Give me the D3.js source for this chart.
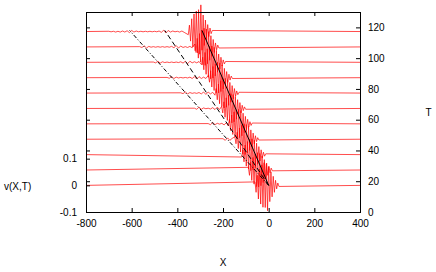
<!DOCTYPE html>
<html>
<head>
<meta charset="utf-8">
<script src="https://cdn.jsdelivr.net/npm/d3@7"></script>
<style>
  body { margin: 0; background: #fff; }
  text { font-family: "Liberation Sans", Arial, sans-serif; font-size: 10px; fill: #000; }
</style>
</head>
<body>
<div id="chart"></div>
<script>
// times of the plotted snapshots (each trace is drawn on its own baseline)
const traceT = [17.3, 27.3, 37.3, 47.3, 57.3, 67.3, 77.3, 87.3, 97.3, 107.3, 117.3];

// main wave packet: first X sample of each trace and the sampled v values
const mainStep = 5;
const mainX0 = [-60, -89, -118, -148, -177, -206, -235, -264, -294, -323, -352];
const mainV = [
  [0.013, -0.026, 0.038, -0.051, 0.061, -0.070, 0.077, -0.082, 0.085, -0.083, 0.081, -0.095, 0.070, -0.061, 0.051, -0.043, 0.034, -0.026, 0.019, -0.013, 0.009, -0.004],
  [0.010, -0.020, 0.029, -0.039, 0.047, -0.053, 0.059, -0.062, 0.065, -0.064, 0.062, -0.059, 0.053, -0.047, 0.039, -0.033, 0.026, -0.020, 0.014, -0.010, 0.007, -0.003],
  [-0.009, 0.018, -0.027, 0.036, -0.043, 0.049, -0.054, 0.058, -0.060, 0.059, -0.057, 0.054, -0.049, 0.043, -0.036, 0.030, -0.024, 0.018, -0.013, 0.009, -0.006, 0.003],
  [0.009, -0.017, 0.026, -0.035, 0.042, -0.048, 0.052, -0.056, 0.058, -0.057, 0.055, -0.052, 0.048, -0.042, 0.035, -0.029, 0.023, -0.017, 0.013, -0.009, 0.006, -0.003],
  [-0.008, 0.017, -0.025, 0.033, -0.040, 0.045, -0.050, 0.053, -0.055, 0.054, -0.052, 0.050, -0.045, 0.040, -0.033, 0.028, -0.022, 0.017, -0.012, 0.008, -0.006, 0.003],
  [0.008, -0.017, 0.025, -0.033, 0.040, -0.045, 0.050, -0.053, 0.055, -0.054, 0.052, -0.050, 0.045, -0.040, 0.033, -0.028, 0.022, -0.017, 0.012, -0.008, 0.006, -0.003],
  [-0.008, 0.017, -0.025, 0.034, -0.040, 0.046, -0.050, 0.054, -0.056, 0.055, -0.053, 0.050, -0.046, 0.040, -0.034, 0.028, -0.022, 0.017, -0.012, 0.008, -0.006, 0.003],
  [0.009, -0.017, 0.026, -0.035, 0.042, -0.048, 0.052, -0.056, 0.058, -0.057, 0.055, -0.052, 0.048, -0.042, 0.035, -0.029, 0.023, -0.017, 0.013, -0.009, 0.006, -0.003],
  [-0.009, 0.019, -0.028, 0.037, -0.045, 0.051, -0.056, 0.060, -0.062, 0.061, -0.059, 0.056, -0.051, 0.045, -0.037, 0.031, -0.025, 0.019, -0.014, 0.009, -0.006, 0.003],
  [0.011, -0.021, 0.032, -0.042, 0.050, -0.057, 0.063, -0.067, 0.070, -0.069, 0.067, -0.063, 0.057, -0.050, 0.042, -0.035, 0.028, -0.021, 0.015, -0.011, 0.007, -0.004],
  [-0.012, 0.024, -0.036, 0.048, -0.058, 0.066, -0.072, 0.077, -0.080, 0.082, -0.085, 0.100, -0.070, 0.062, -0.052, 0.043, -0.034, 0.026, -0.019, 0.013, -0.008, 0.004]
];

// weak ripples trailing behind the main packet
const trailStep = 10;
const trailX0 = [null, null, null, -200, -265, -325, -385, -445, -505, -565, -700];
const trailV = [
  [], [], [],
  [0.002, -0.004, 0.005, -0.004, 0.003],
  [0.001, -0.003, 0.005, -0.003, 0.002, -0.001, 0.002, -0.004, 0.005],
  [0.001, -0.003, 0.005, -0.003, 0.002, -0.001, 0.001, -0.002, 0.003, -0.004, 0.005, -0.004],
  [0.001, -0.002, 0.004, -0.003, 0.002, -0.001, 0.001, -0.001, 0.002, -0.003, 0.004, -0.005, 0.004, -0.003, 0.003],
  [0.001, -0.002, 0.004, -0.003, 0.002, -0.001, 0.001, -0.001, 0.001, -0.001, 0.002, -0.003, 0.004, -0.005, 0.004, -0.003, 0.002, -0.003],
  [0.001, -0.002, 0.004, -0.003, 0.002, -0.001, 0.001, -0.001, 0.001, -0.001, 0.001, -0.001, 0.002, -0.003, 0.004, -0.005, 0.004, -0.002, 0.002, -0.002, 0.003],
  [0.001, -0.002, 0.004, -0.004, 0.002, -0.001, 0.001, -0.001, 0.001, -0.001, 0.001, -0.001, 0.001, -0.001, 0.002, -0.003, 0.005, -0.004, 0.003, -0.002, 0.001, -0.002, 0.002, -0.003],
  [0.001, -0.001, 0.001, -0.002, 0.001, -0.002, 0.002, -0.002, 0.003, -0.004, 0.004, -0.002, 0.002, -0.001, 0.001, -0.001, 0.001, -0.001, 0.001, -0.001, 0.001, -0.001, 0.002, -0.003, 0.005, -0.005, 0.004, -0.002, 0.002, -0.001, 0.001, -0.002, 0.002, -0.003]
];

// straight guide lines (solid, dashed, dash-dot)
const guideX = [[0, -292], [0, -455], [0, -609]];
const guideT = [[17.3, 118], [17.3, 118], [17.3, 118]];
const guideDash = [null, "5,3", "4,2,1,2"];

// ticks
const xTicks = [-800, -600, -400, -200, 0, 200, 400];
const tTicks = [0, 20, 40, 60, 80, 100, 120];
const vTicks = [-0.1, 0, 0.1];
const vTickLabels = ["-0.1", "0", "0.1"];

const width = 436, height = 272;

const svg = d3.select('#chart').append('svg')
    .attr('width', width)
    .attr('height', height);

const x = d3.scaleLinear().domain([-800, 400]).range([86, 360]);
const yT = d3.scaleLinear().domain([0, 130]).range([212, 12]);
const yV = d3.scaleLinear().domain([-0.1, 0.65]).range([212, 12]);

// the traces
traceT.forEach((t, i) => {
    const pts = [[-800, 0]];
    if (trailX0[i] !== null) {
        trailV[i].forEach((v, k) => pts.push([trailX0[i] + k * trailStep, v]));
    }
    mainV[i].forEach((v, k) => pts.push([mainX0[i] + k * mainStep, v]));
    pts.push([400, 0]);

    const line = d3.line()
        .x(d => x(d[0]))
        .y(d => yT(t) + yV(d[1]) - yV(0));

    svg.append("path")
        .attr("d", line(pts))
        .attr("fill", "none")
        .attr("stroke", "#ff0000")
        .attr("stroke-width", 0.7);
});

// guide lines on top
guideX.forEach((gx, i) => {
    svg.append("line")
        .attr("x1", x(gx[0])).attr("y1", yT(guideT[i][0]))
        .attr("x2", x(gx[1])).attr("y2", yT(guideT[i][1]))
        .attr("stroke", "#000")
        .attr("stroke-width", 1)
        .attr("stroke-dasharray", guideDash[i]);
});

// frame
svg.append("rect")
    .attr("x", 86.5).attr("y", 12.5)
    .attr("width", 274).attr("height", 200)
    .attr("fill", "none")
    .attr("stroke", "#000");

const noDomain = g => g.select(".domain").remove();

svg.append("g").attr("transform", "translate(0,212)")
    .call(d3.axisBottom(x).tickValues(xTicks).tickSize(-4).tickPadding(8).tickFormat(d => String(d)))
    .call(noDomain);

svg.append("g").attr("transform", "translate(0,12)")
    .call(d3.axisTop(x).tickValues(xTicks).tickSize(-4).tickFormat(""))
    .call(noDomain);

svg.append("g").attr("transform", "translate(360,0)")
    .call(d3.axisRight(yT).tickValues(tTicks).tickSize(-4).tickPadding(8).tickFormat(d => String(d)))
    .call(noDomain);

svg.append("g").attr("transform", "translate(86,0)")
    .call(d3.axisLeft(yT).tickValues(tTicks).tickSize(-4).tickFormat(""))
    .call(noDomain);

svg.append("g").attr("transform", "translate(86,0)")
    .call(d3.axisLeft(yV).tickValues(vTicks).tickSize(-4).tickPadding(9).tickFormat((d, i) => vTickLabels[i]))
    .call(noDomain);

svg.selectAll(".tick text").attr("font-family", null).attr("font-size", null);

// axis titles
svg.append("text").attr("x", 4).attr("y", 186).attr("dy", "0.35em").text("v(X,T)");
svg.append("text").attr("x", 428.5).attr("y", 112).attr("dy", "0.35em").attr("text-anchor", "middle").text("T");
svg.append("text").attr("x", 223).attr("y", 262.5).attr("dy", "0.35em").attr("text-anchor", "middle").text("X");
</script>
</body>
</html>
